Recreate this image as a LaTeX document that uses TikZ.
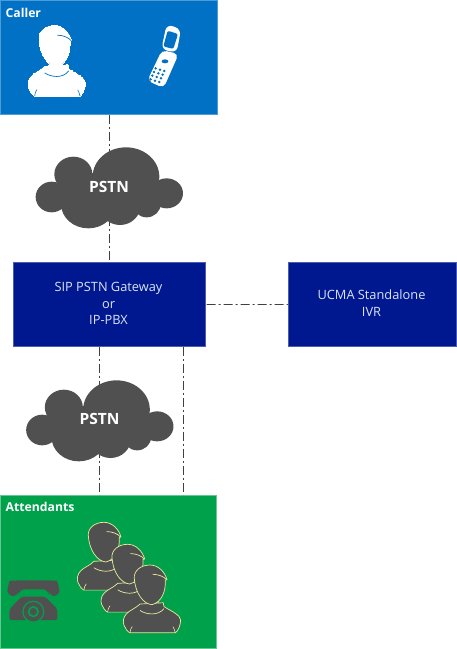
\documentclass[tikz,border=0pt]{standalone}
\usepackage{fontspec}
\setmainfont{Open Sans}
\definecolor{callerblue}{HTML}{0071C5}
\definecolor{navy}{HTML}{00188F}
\definecolor{attgreen}{HTML}{00A14B}
\definecolor{darkgrey}{HTML}{505050}
\definecolor{paleline}{HTML}{E6EE9C}
\definecolor{softtext}{HTML}{DCE3F5}
\definecolor{conn}{HTML}{404040}
\newcommand{\personshape}[4]{%
  % #1 fill, #2 outline, #3 outline width, #4 detail colour
  \begin{scope}[line join=round]
  \path[fill=#1,draw=#2,line width=#3]
    (50,122) .. controls (38,135) and (18,142) .. (10,152)
    .. controls (0,162) and (-2,178) .. (2,188)
    .. controls (6,198) and (12,208) .. (20,212)
    -- (156,212)
    .. controls (165,205) and (172,188) .. (172,172)
    .. controls (170,155) and (150,148) .. (122,130)
    -- (120,118) -- cycle;
  \path[fill=#1,draw=#2,line width=#3]
    (33,42) .. controls (31,18) and (52,0) .. (80,0)
    .. controls (105,0) and (125,22) .. (131,46)
    -- (126,47)
    .. controls (128,80) and (116,116) .. (86,124)
    .. controls (60,122) and (36,88) .. (33,42) -- cycle;
  \path[draw=#4,line width=0.7pt]
    (88,29) .. controls (105,29) and (122,36) .. (130,46);
  \path[draw=#4,line width=0.7pt]
    (50,142) .. controls (68,155) and (105,160) .. (122,136);
  \path[draw=#4,line width=0.6pt] (20,212) .. controls (20,204) and (23,198) .. (27,192);
  \path[draw=#4,line width=0.6pt] (156,212) .. controls (155,205) and (152,198) .. (149,193);
  \end{scope}}
\tikzset{
  panel/.style={draw=#1,line width=0.7pt},
  dashdot/.style={draw=conn,line width=0.7pt,dash pattern=on 9pt off 3pt on 2pt off 3pt},
  boxlabel/.style={text=softtext,font=\fontsize{12.8}{16.4}\selectfont,align=center,inner sep=0pt},
  headlabel/.style={text=white,font=\bfseries\fontsize{12.2}{14}\selectfont,anchor=west,inner sep=0pt},
  cloudlabel/.style={text=white,font=\bfseries\fontsize{15.5}{17}\selectfont,inner sep=0pt},
  cloudshape/.pic={
    \begin{scope}[scale=1/3]
    \fill[darkgrey] (95,201) ellipse [x radius=48,y radius=46];
    \fill[darkgrey] (160,133) ellipse [x radius=57,y radius=53];
    \fill[darkgrey] (318,140) ellipse [x radius=100,y radius=88];
    \fill[darkgrey] (440,190) ellipse [x radius=49,y radius=45];
    \fill[darkgrey] (205,222) ellipse [x radius=82,y radius=73];
    \fill[darkgrey] (300,225) ellipse [x radius=62,y radius=60];
    \fill[darkgrey] (380,222) ellipse [x radius=42,y radius=40];
    \fill[darkgrey] (150,130) rectangle (400,230);
    \end{scope}
  }
}
\begin{document}
\begin{tikzpicture}[x=1pt,y=-1pt]
\useasboundingbox (0,0) rectangle (456,649);
\fill[white] (0,0) rectangle (456,649);

\node[panel=callerblue!70!white,fill=callerblue,minimum width=217pt,minimum height=114pt,anchor=north west,inner sep=0pt] (caller) at (0.2,0.4) {};
\node[panel=navy!70!white,fill=navy,minimum width=192.6pt,minimum height=84.6pt,anchor=north west,inner sep=0pt] (gw) at (12.6,261.8) {};
\node[panel=navy!70!white,fill=navy,minimum width=167.6pt,minimum height=84.6pt,anchor=north west,inner sep=0pt] (ivr) at (288.2,261.8) {};
\node[panel=attgreen!60!white,fill=attgreen,minimum width=216pt,minimum height=153.6pt,anchor=north west,inner sep=0pt] (att) at (0.2,494.8) {};

\coordinate (c1) at (109.7,114.5);
\coordinate (c2) at (109.7,261.5);
\coordinate (c3) at (99.5,346.5);
\coordinate (c4) at (99.5,494.5);
\coordinate (c5) at (183.3,346.5);
\coordinate (c6) at (183.3,494.5);
\coordinate (c7) at (206.5,304.5);
\draw[dashdot] (c1) -- (c2);
\draw[dashdot] (c3) -- (c4);
\draw[dashdot] (c5) -- (c6);
\draw[dashdot] (c7) -- (ivr.west);

% clouds
\pic at (20,130) {cloudshape};
\pic at (10.5,363) {cloudshape};
\node[cloudlabel] (p1) at (109,187) {PSTN};
\node[cloudlabel] (p2) at (99.5,419) {PSTN};

% labels
\node[headlabel] (tcaller) at (5.5,13) {Caller};
\node[headlabel] (tatt) at (5.5,507) {Attendants};
\node[boxlabel] (tgw) at (108.5,303.5) {SIP PSTN Gateway\\or\\IP-PBX};
\node[boxlabel] (tivr) at (371.5,303) {UCMA Standalone\\IVR};

% caller person
\begin{scope}[shift={(28,25.5)},scale=1/3]
  \personshape{white}{white}{0pt}{callerblue}
\end{scope}

% flip phone
\begin{scope}[scale=1/3]
  \fill[white,rounded corners=6pt] (500,73) -- (543,87) -- (530,158) -- (484,148) -- cycle;
  \fill[callerblue,rounded corners=2pt] (503,92) -- (534,102) -- (520,147) -- (490,139) -- cycle;
  \fill[white,rounded corners=5pt] (486,150) -- (536,162) -- (491,264) -- (442,242) -- cycle;
  \fill[callerblue] (495,184) ellipse [x radius=10,y radius=6];
  \foreach \i in {0,1,2,3} \foreach \j in {0,1,2}
    \fill[callerblue] ({467+\j*13+\i*(-5)},{205+\j*4+\i*11}) circle [radius=4.2];
\end{scope}

% attendants
\begin{scope}[shift={(77.3,522.3)},scale=1/3,yscale=0.96]
  \personshape{darkgrey}{paleline}{0.7pt}{paleline}
\end{scope}
\begin{scope}[shift={(101,544.3)},scale=1/3,yscale=0.96]
  \personshape{darkgrey}{paleline}{0.7pt}{paleline}
\end{scope}
\begin{scope}[shift={(123.3,565)},scale=1/3,yscale=0.96]
  \personshape{darkgrey}{paleline}{0.7pt}{paleline}
\end{scope}

% desk phone
\begin{scope}[shift={(0,570)},scale=1/3]
  \fill[darkgrey,rounded corners=6pt] (22,78) -- (22,50) .. controls (30,30) and (170,30) .. (178,50) -- (178,78) -- (146,78) -- (146,58) -- (56,58) -- (56,78) -- cycle;
  \fill[darkgrey,rounded corners=2pt] (28,150) -- (28,118) -- (65,80) -- (135,80) -- (172,117) -- (172,150) -- cycle;
  \fill[attgreen] (100,125) circle [radius=33];
  \fill[darkgrey] (100,125) circle [radius=29];
  \fill[attgreen] (100,125) circle [radius=17];
  \fill[darkgrey] (100,125) circle [radius=11];
\end{scope}
\end{tikzpicture}
\end{document}
